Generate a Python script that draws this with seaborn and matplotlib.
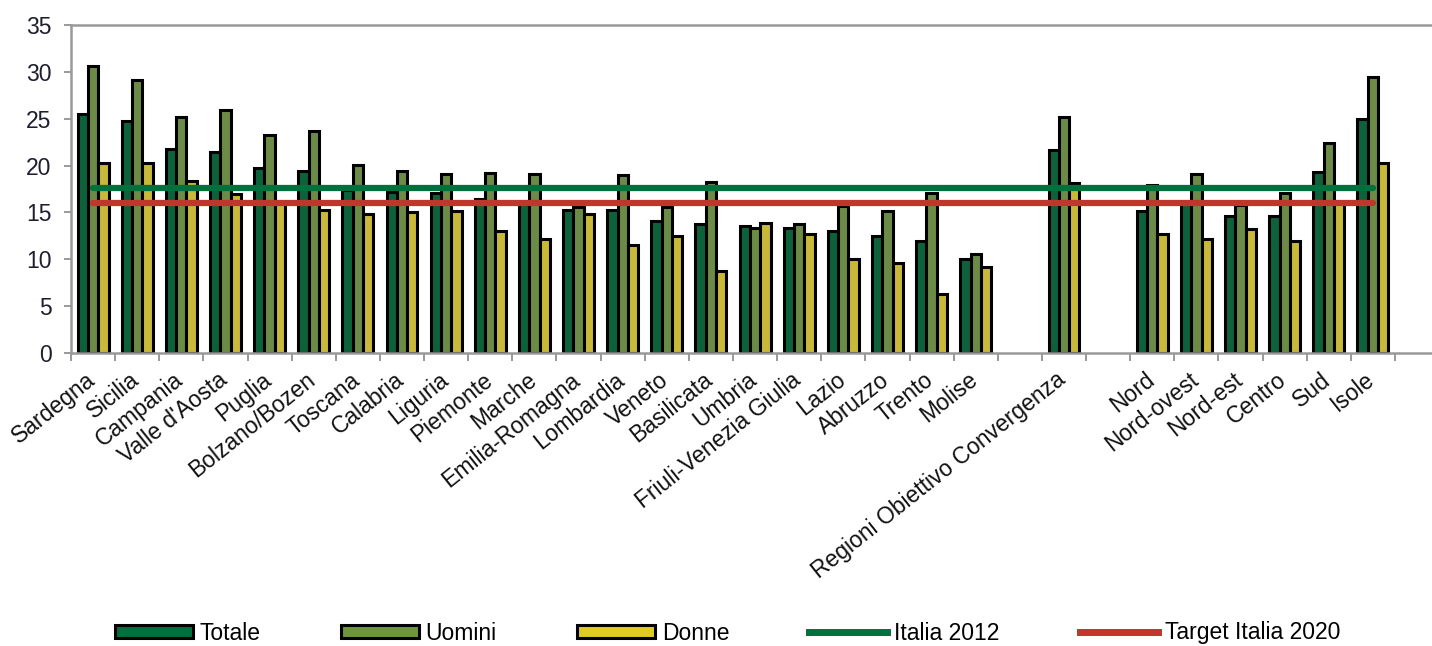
import numpy as np
import pandas as pd
import matplotlib
matplotlib.use("Agg")
import matplotlib.pyplot as plt
import matplotlib.transforms as mtransforms
import seaborn as sns
from matplotlib.patches import Patch
from matplotlib.lines import Line2D

categories = ["Sardegna", "Sicilia", "Campania", "Valle d'Aosta", "Puglia", "Bolzano/Bozen",
              "Toscana", "Calabria", "Liguria", "Piemonte", "Marche", "Emilia-Romagna",
              "Lombardia", "Veneto", "Basilicata", "Umbria", "Friuli-Venezia Giulia", "Lazio",
              "Abruzzo", "Trento", "Molise", " ", "Regioni Obiettivo Convergenza", "  ",
              "Nord", "Nord-ovest", "Nord-est", "Centro", "Sud", "Isole"]
nan = np.nan
totale = [25.5, 24.8, 21.8, 21.5, 19.7, 19.4, 17.4, 17.2, 17.1, 16.4, 15.9, 15.3, 15.3, 14.1,
          13.8, 13.6, 13.3, 13.0, 12.5, 11.9, 10.0, nan, 21.7, nan, 15.2, 16.0, 14.6, 14.6, 19.3, 25.0]
uomini = [30.6, 29.1, 25.2, 25.9, 23.3, 23.7, 20.1, 19.4, 19.1, 19.2, 19.1, 15.6, 19.0, 15.6,
          18.3, 13.3, 13.8, 15.7, 15.1, 17.1, 10.6, nan, 25.2, nan, 17.9, 19.1, 15.8, 17.1, 22.4, 29.4]
donne = [20.3, 20.3, 18.4, 17.0, 16.0, 15.3, 14.8, 15.0, 15.2, 13.0, 12.2, 14.8, 11.5, 12.5,
         8.8, 13.9, 12.7, 10.0, 9.6, 6.3, 9.2, nan, 18.1, nan, 12.7, 12.2, 13.2, 12.0, 16.1, 20.3]
italia_2012 = 17.6
target_2020 = 16.0
series_names = ["Totale", "Uomini", "Donne"]
y_ticks = [0, 5, 10, 15, 20, 25, 30, 35]

c_tot = "#00703c"
c_uom = "#6e963a"
c_don = "#e0cb22"
c_ita = "#00703c"
c_tar = "#c0352c"

df = pd.DataFrame({
    "cat": categories * 3,
    "serie": sum([[s] * len(categories) for s in series_names], []),
    "val": totale + uomini + donne,
})

plt.rcParams["font.family"] = ["Liberation Sans", "DejaVu Sans"]
fig = plt.figure(figsize=(14.32, 6.46), dpi=100)
ax = fig.add_axes([71 / 1432, 293 / 646, 1 - 71 / 1432, 328 / 646])

sns.barplot(data=df, x="cat", y="val", hue="serie", order=categories, hue_order=series_names,
            palette=[c_tot, c_uom, c_don], width=0.7, gap=0, edgecolor="black", linewidth=2.2,
            legend=False, ax=ax, zorder=2)

n = len(categories)
ax.plot([0, n - 1], [italia_2012, italia_2012], color=c_ita, lw=4.5, zorder=3, solid_capstyle="round")
ax.plot([0, n - 1], [target_2020, target_2020], color=c_tar, lw=4.5, zorder=3, solid_capstyle="round")

ax.set_xlim(-0.5, n - 0.5 + 37 / 44.13)
ax.set_ylim(0, 35)
ax.set_yticks(y_ticks)
ax.set_yticklabels([str(t) for t in y_ticks], fontsize=16.5, color="#1e1e2e")
ax.tick_params(axis="y", length=5, width=1.2, color="#888888", pad=9)

ax.set_xticks(range(n))
ax.set_xticklabels(categories, rotation=38.5, ha="right", rotation_mode="anchor",
                   fontsize=16.5, color="#111111")
ax.tick_params(axis="x", which="major", length=0, pad=11)
offset = mtransforms.ScaledTranslation(-8 / 100, 0, fig.dpi_scale_trans)
for lab in ax.get_xticklabels():
    lab.set_transform(lab.get_transform() + offset)
ax.set_xticks(np.arange(-0.5, n, 1.0), minor=True)
ax.tick_params(axis="x", which="minor", length=6, width=1.2, color="#888888", direction="out")

ax.set_xlabel("")
ax.set_ylabel("")
for side in ["left", "top", "bottom"]:
    ax.spines[side].set_color("#999999")
    ax.spines[side].set_linewidth(1.8)
ax.spines["right"].set_visible(False)
ax.grid(False)

handles = [
    Patch(facecolor=c_tot, edgecolor="black", linewidth=2.2),
    Patch(facecolor=c_uom, edgecolor="black", linewidth=2.2),
    Patch(facecolor=c_don, edgecolor="black", linewidth=2.2),
    Line2D([0], [0], color=c_ita, lw=5),
    Line2D([0], [0], color=c_tar, lw=5),
]
labels = ["Totale", "Uomini", "Donne", "Italia 2012", "Target Italia 2020"]
fig.legend(handles, labels, loc="center", bbox_to_anchor=(0.508, 13 / 646), ncol=5,
           frameon=False, fontsize=16.5, handlelength=3.4, handleheight=0.5,
           handletextpad=0.3, columnspacing=3.5, borderpad=0)

fig.savefig("out.png", dpi=100)
